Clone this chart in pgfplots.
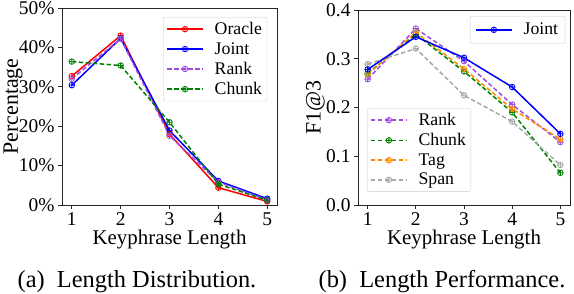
\documentclass[border=0pt]{standalone}
\usepackage{pgfplots}
\pgfplotsset{compat=1.18}
\usepackage{fontspec}
\setmainfont{Liberation Serif}
\definecolor{cRank}{HTML}{9B4FE0}
\definecolor{cChunk}{HTML}{008000}
\definecolor{cTag}{HTML}{FF8C00}
\definecolor{cSpan}{HTML}{A9A9A9}
\definecolor{cOracle}{HTML}{FF0000}
\definecolor{cJoint}{HTML}{0000FF}
\pgfplotsset{
  common/.style={
    scale only axis,
    xmin=0.8, xmax=5.2,
    xtick={1,2,3,4,5},
    xticklabels={1,2,3,4,5},
    tick align=outside,
    xtick pos=bottom, ytick pos=left,
    major tick length=4bp,
    axis line style={line width=0.8bp, black!85},
    tick style={line width=0.8bp, black!85},
    ticklabel style={font=\fontsize{19.5}{22}\selectfont},
    xlabel={Keyphrase Length},
    xlabel style={font=\fontsize{21}{24}\selectfont, yshift=2bp},
    ylabel style={font=\fontsize{22}{25}\selectfont, at={(rel axis cs:0,0.5)}, anchor=center},
    legend cell align=left,
    legend style={font=\fontsize{17.8}{20}\selectfont, draw=black!20, rounded corners=2bp, fill=white, inner xsep=3bp, inner ysep=3bp, row sep=2.4bp,
      /tikz/every odd column/.append style={column sep=9bp}},
    legend image code/.code={\draw[mark repeat=2,mark phase=2,#1] plot coordinates {(0bp,0bp)(18bp,0bp)(36bp,0bp)};},
  },
  ln/.style={color=#1, line width=1.5bp, mark=oplus, mark size=2.8bp, mark options={solid, fill=#1!40, line width=0.8bp}},
  dsh/.style={ln=#1, dash pattern=on 4.5bp off 2.5bp},
}
\begin{document}
\begin{tikzpicture}
\useasboundingbox (0,0) rectangle (574bp,294bp);
% (a)
\begin{axis}[common,
  at={(62bp,89bp)}, anchor=south west,
  width=215bp, height=197bp,
  ymin=0, ymax=50,
  ytick={0,10,20,30,40,50},
  yticklabels={0\%,10\%,20\%,30\%,40\%,50\%},
  ylabel={Percentage},
  ylabel style={yshift=49bp},
  legend style={at={(0.47,0.954)}, anchor=north west},
]
\addplot[ln=cOracle] coordinates {(1,32.7) (2,43.0) (3,18.0) (4,4.4) (5,0.9)};
\addlegendentry{Oracle}
\addplot[ln=cJoint] coordinates {(1,30.4) (2,42.3) (3,18.9) (4,6.1) (5,1.6)};
\addlegendentry{Joint}
\addplot[dsh=cRank] coordinates {(1,32.0) (2,42.2) (3,17.6) (4,5.8) (5,1.3)};
\addlegendentry{Rank}
\addplot[dsh=cChunk] coordinates {(1,36.4) (2,35.4) (3,21.0) (4,5.3) (5,1.2)};
\addlegendentry{Chunk}
\end{axis}
% (b)
\begin{axis}[common,
  at={(358bp,89bp)}, anchor=south west,
  width=212bp, height=195bp,
  ymin=0, ymax=0.4,
  ytick={0,0.1,0.2,0.3,0.4},
  yticklabels={0.0,0.1,0.2,0.3,0.4},
  ylabel={F1@3},
  ylabel style={yshift=42.5bp},
  legend style={at={(0.042,0.497)}, anchor=north west},
]
\addplot[dsh=cRank] coordinates {(1,0.258) (2,0.362) (3,0.295) (4,0.206) (5,0.129)};
\addlegendentry{Rank}
\addplot[dsh=cChunk] coordinates {(1,0.270) (2,0.350) (3,0.274) (4,0.190) (5,0.066)};
\addlegendentry{Chunk}
\addplot[dsh=cTag] coordinates {(1,0.268) (2,0.354) (3,0.279) (4,0.197) (5,0.135)};
\addlegendentry{Tag}
\addplot[dsh=cSpan] coordinates {(1,0.289) (2,0.321) (3,0.225) (4,0.171) (5,0.082)};
\addlegendentry{Span}
\addplot[ln=cJoint, forget plot] coordinates {(1,0.278) (2,0.345) (3,0.302) (4,0.242) (5,0.146)};
\end{axis}
\begin{axis}[common,
  at={(358bp,89bp)}, anchor=south west,
  width=212bp, height=195bp,
  ymin=0, ymax=0.4,
  hide axis,
  legend style={at={(0.528,0.969)}, anchor=north west, inner ysep=5bp, inner xsep=5bp},
]
\addlegendimage{ln=cJoint}
\addlegendentry{Joint}
\end{axis}
\node[anchor=base, font=\fontsize{24.5}{28}\selectfont] at (137bp,7bp) {(a)\ \ Length Distribution.};
\node[anchor=base, font=\fontsize{24.5}{28}\selectfont] at (442bp,7bp) {(b)\ \ Length Performance.};
\end{tikzpicture}
\end{document}
